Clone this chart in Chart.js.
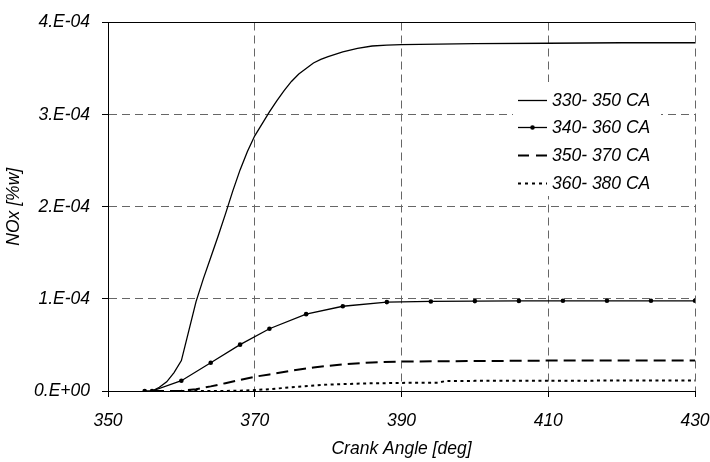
<!DOCTYPE html>
<html><head><meta charset="utf-8">
<script src="https://cdn.jsdelivr.net/npm/chart.js@4.4.1/dist/chart.umd.min.js"></script>
<style>html,body{margin:0;padding:0;background:#fff;}canvas{display:block;}</style>
</head><body>
<canvas id="c" width="710" height="462"></canvas>
<script>
const seriesLabels = ['330- 350 CA', '340- 360 CA', '350- 370 CA', '360- 380 CA'];

const s1X = [356, 357, 358, 359, 360, 361, 362, 363, 364, 365, 366, 367, 368, 369, 370, 371, 372, 373, 374, 375, 376, 377, 378, 379, 380, 382, 384, 386, 388, 390, 395, 400, 410, 420, 430];
const s1Y = [0, 0.04e-4, 0.1e-4, 0.2e-4, 0.33e-4, 0.65e-4, 0.97e-4, 1.22e-4, 1.45e-4, 1.68e-4, 1.92e-4, 2.17e-4, 2.4e-4, 2.6e-4, 2.77e-4, 2.9e-4, 3.03e-4, 3.15e-4, 3.26e-4, 3.36e-4, 3.44e-4, 3.5e-4, 3.56e-4, 3.6e-4, 3.63e-4, 3.68e-4, 3.72e-4, 3.745e-4, 3.755e-4, 3.76e-4, 3.765e-4, 3.77e-4, 3.775e-4, 3.78e-4, 3.78e-4];

const s2X = [355, 356, 360, 364, 368, 372, 377, 382, 388, 394, 400, 406, 412, 418, 424, 430];
const s2Y = [0, 0, 0.112e-4, 0.306e-4, 0.503e-4, 0.676e-4, 0.834e-4, 0.92e-4, 0.965e-4, 0.972e-4, 0.976e-4, 0.978e-4, 0.979e-4, 0.979e-4, 0.979e-4, 0.979e-4];

const s3X = [356, 358, 360, 362, 364, 366, 368, 370, 372, 375, 378, 382, 386, 390, 400, 410, 420, 430];
const s3Y = [0, 0, 0.002e-4, 0.02e-4, 0.05e-4, 0.085e-4, 0.12e-4, 0.155e-4, 0.18e-4, 0.22e-4, 0.255e-4, 0.29e-4, 0.31e-4, 0.32e-4, 0.325e-4, 0.33e-4, 0.332e-4, 0.332e-4];

const s4X = [360, 365, 368, 370, 372, 375, 380, 385, 390, 395, 396, 400, 410, 420, 430];
const s4Y = [0, 0, 0.003e-4, 0.01e-4, 0.02e-4, 0.04e-4, 0.07e-4, 0.082e-4, 0.088e-4, 0.09e-4, 0.108e-4, 0.11e-4, 0.112e-4, 0.113e-4, 0.113e-4];

const xTicks = [350, 370, 390, 410, 430];
const yTicks = [0, 1e-4, 2e-4, 3e-4, 4e-4];
const yTickLabels = ['0.E+00', '1.E-04', '2.E-04', '3.E-04', '4.E-04'];

const pts = (xs, ys) => xs.map((x, i) => ({x: x, y: ys[i]}));

const FONT = {family: "'Liberation Sans', Arial, sans-serif", style: 'italic', size: 17.5};

const legendPlugin = {
  id: 'boxLegend',
  afterDatasetsDraw(chart) {
    const ctx = chart.ctx;
    ctx.save();
    ctx.fillStyle = '#fff';
    ctx.fillRect(513, 82, 148, 114);
    const rows = [100, 127, 155, 183];
    chart.data.datasets.forEach((ds, i) => {
      const y = rows[i];
      ctx.strokeStyle = '#000';
      ctx.lineWidth = ds.borderWidth;
      ctx.setLineDash(ds.legendDash || []);
      ctx.beginPath();
      ctx.moveTo(518, y + 0.5);
      ctx.lineTo(547, y + 0.5);
      ctx.stroke();
      ctx.setLineDash([]);
      if (ds.pointRadius > 0) {
        ctx.fillStyle = '#000';
        ctx.beginPath();
        ctx.arc(532.5, y + 0.5, ds.pointRadius, 0, Math.PI * 2);
        ctx.fill();
      }
      ctx.fillStyle = '#000';
      ctx.font = 'italic 17.5px "Liberation Sans", Arial, sans-serif';
      ctx.textBaseline = 'middle';
      ctx.textAlign = 'left';
      ctx.fillText(ds.label, 552, y + 1);
    });
    ctx.restore();
  }
};

new Chart(document.getElementById('c'), {
  type: 'line',
  data: {
    datasets: [
      {label: seriesLabels[0], data: pts(s1X, s1Y), borderColor: '#000', borderWidth: 1.3, pointRadius: 0, tension: 0},
      {label: seriesLabels[1], data: pts(s2X, s2Y), borderColor: '#000', borderWidth: 1.3, pointRadius: 2.3, pointBackgroundColor: '#000', pointBorderWidth: 0, tension: 0},
      {label: seriesLabels[2], data: pts(s3X, s3Y), borderColor: '#000', borderWidth: 2, borderDash: [12, 6], legendDash: [11, 7], pointRadius: 0, tension: 0},
      {label: seriesLabels[3], data: pts(s4X, s4Y), borderColor: '#000', borderWidth: 2, borderDash: [3, 3.5], legendDash: [3, 4], pointRadius: 0, tension: 0}
    ]
  },
  options: {
    responsive: false,
    animation: false,
    devicePixelRatio: 1,
    layout: {padding: {left: 0, top: 20, right: 0, bottom: 0}},
    plugins: {legend: {display: false}, tooltip: {enabled: false}},
    scales: {
      x: {
        type: 'linear', min: 350, max: 430,
        afterBuildTicks: s => { s.ticks = xTicks.map(v => ({value: v})); },
        afterFit: s => { s.height = 71; s.paddingRight = 15; s.paddingLeft = 0; },
        ticks: {font: FONT, color: '#000', padding: 14, maxRotation: 0},
        grid: {color: '#666', lineWidth: 1, tickLength: 6, tickColor: '#000', tickBorderDash: [], drawTicks: true},
        border: {display: true, color: '#000', width: 1, dash: [8, 5]},
        title: {display: true, text: 'Crank Angle [deg]', font: FONT, color: '#000', padding: {top: 0, bottom: 2}}
      },
      y: {
        type: 'linear', min: 0, max: 4e-4,
        afterBuildTicks: s => { s.ticks = yTicks.map(v => ({value: v})); },
        afterFit: s => { s.width = 108; },
        ticks: {font: FONT, color: '#000', padding: 12, callback: (v, i) => yTickLabels[i]},
        grid: {color: c => c.index === 4 ? '#000' : '#666', lineWidth: 1, tickLength: 6, tickColor: '#000', tickBorderDash: [], drawTicks: true},
        border: {display: true, color: '#000', width: 1, dash: c => c.index === 4 ? [] : [8, 5]},
        title: {display: true, text: 'NOx [%w]', font: FONT, color: '#000', padding: {top: 4, bottom: 0}}
      }
    }
  },
  plugins: [legendPlugin]
});
</script>
</body></html>
